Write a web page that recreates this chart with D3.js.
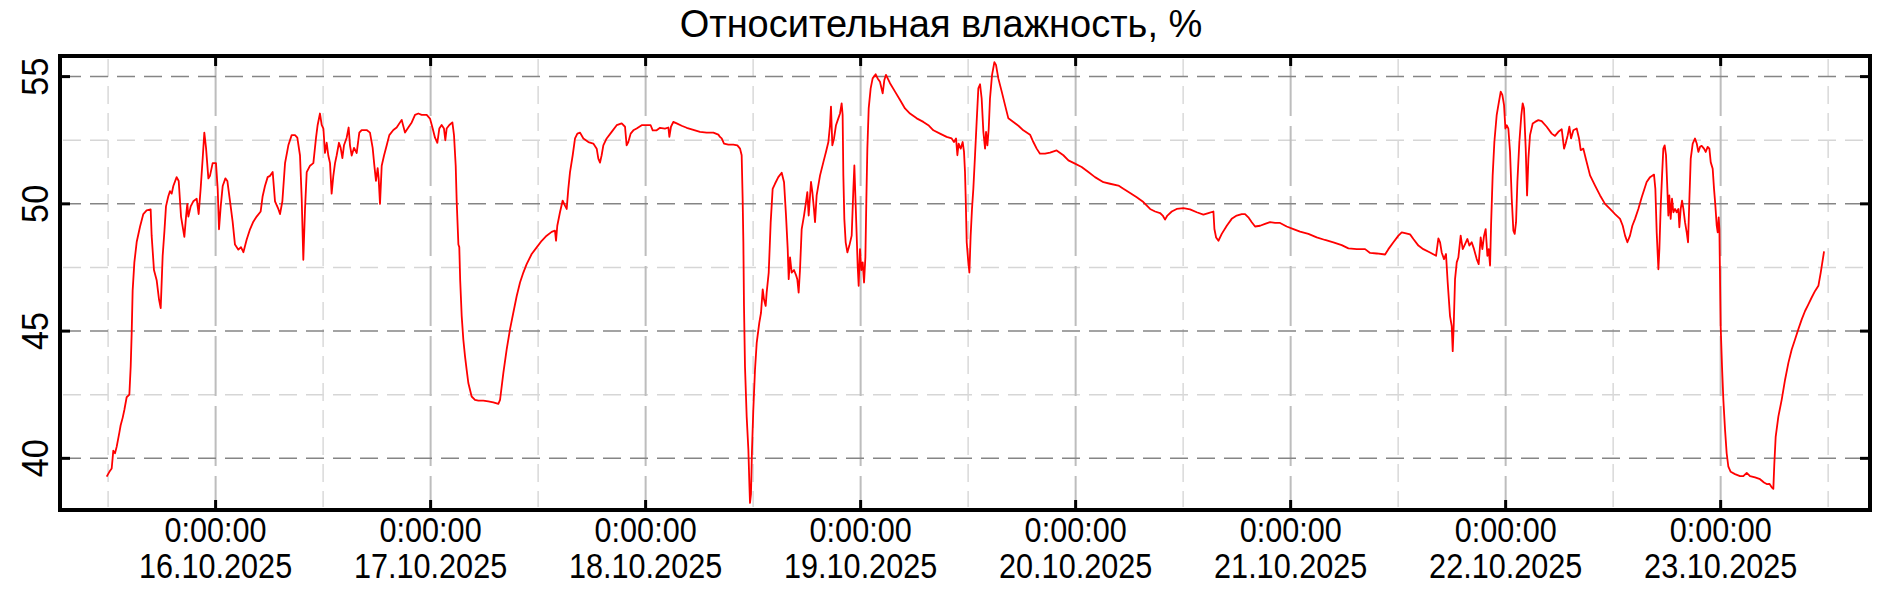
<!DOCTYPE html>
<html>
<head>
<meta charset="utf-8">
<script src="https://cdn.jsdelivr.net/npm/d3@7"></script>
<style>
  body { margin: 0; background: #fff; }
  svg { display: block; }
</style>
</head>
<body>
<script>
// Screen dimensions.
const WIDTH = 1882;
const HEIGHT = 590;
const margin = { top: 56, right: 12, bottom: 80, left: 60 };

const TITLE = "Относительная влажность, %";
const FONT = "'Liberation Sans', Arial, sans-serif";
// the tick labels of the original are in a narrow face: squeeze a regular one
const SQUEEZE_X = 0.85;
const SQUEEZE_Y = 0.95;

// Hours counted from 15.10.2025 0:00 and relative humidity, %.
const hrs = [
  11.84, 12.14, 12.40, 12.58, 12.77, 12.96, 13.25, 13.40, 13.63, 13.81, 14.07, 14.37, 14.52, 14.63, 14.74, 14.93,
  15.19, 15.56, 15.93, 16.30, 16.75, 16.86, 17.12, 17.42, 17.68, 17.87, 18.09, 18.28, 18.46, 18.72, 18.91, 19.10,
  19.28, 19.65, 19.88, 20.14, 20.51, 20.70, 20.84, 20.96, 21.22, 21.51, 21.89, 22.11, 22.33, 22.56, 22.74, 22.93,
  23.19, 23.37, 23.67, 24.04, 24.23, 24.38, 24.57, 24.79, 25.09, 25.31, 25.61, 25.90, 26.16, 26.54, 26.83, 27.10,
  27.47, 27.84, 28.21, 28.58, 29.03, 29.25, 29.51, 29.81, 30.07, 30.37, 30.63, 31.00, 31.19, 31.45, 31.75, 32.12,
  32.49, 32.86, 33.12, 33.42, 33.61, 33.79, 33.98, 34.17, 34.54, 34.91, 35.21, 35.39, 35.65, 35.84, 36.03, 36.21,
  36.40, 36.58, 36.77, 36.95, 37.14, 37.33, 37.51, 37.77, 37.96, 38.15, 38.33, 38.63, 38.85, 39.00, 39.19, 39.45,
  39.75, 40.04, 40.30, 40.86, 41.23, 41.53, 41.72, 41.90, 42.09, 42.20, 42.35, 42.54, 42.80, 43.10, 43.39, 43.84,
  44.21, 44.77, 45.14, 45.51, 45.89, 46.26, 46.63, 47.00, 47.56, 47.93, 48.23, 48.49, 48.75, 48.97, 49.23, 49.49,
  49.64, 49.79, 50.09, 50.43, 50.61, 50.80, 50.91, 51.10, 51.20, 51.30, 51.47, 51.65, 51.84, 52.02, 52.21, 52.58,
  52.95, 53.33, 53.88, 54.44, 55.00, 55.56, 55.75, 56.12, 56.49, 56.86, 57.23, 57.61, 57.98, 58.35, 58.72, 59.28,
  59.84, 60.40, 60.95, 61.51, 61.88, 62.00, 62.14, 62.44, 62.74, 63.00, 63.19, 63.37, 63.56, 63.86, 64.12, 64.38,
  64.68, 65.05, 65.61, 66.16, 66.54, 66.72, 66.91, 67.09, 67.28, 67.65, 68.21, 68.77, 69.33, 69.70, 69.88, 70.07,
  70.33, 70.63, 71.00, 71.56, 72.12, 72.56, 72.79, 73.23, 73.61, 74.16, 74.54, 74.65, 74.83, 75.09, 75.47, 76.02,
  76.58, 77.33, 78.07, 78.81, 79.56, 80.12, 80.30, 80.49, 80.75, 81.23, 81.79, 82.24, 82.54, 82.72, 82.83, 82.91,
  82.98, 83.09, 83.28, 83.47, 83.58, 83.65, 83.76, 83.87, 84.02, 84.21, 84.40, 84.69, 84.88, 85.07, 85.21, 85.40,
  85.51, 85.74, 85.96, 86.18, 86.44, 86.81, 87.19, 87.45, 87.67, 87.86, 87.97, 88.12, 88.30, 88.56, 88.79, 88.93,
  89.08, 89.23, 89.42, 89.68, 89.90, 90.05, 90.20, 90.46, 90.61, 90.79, 90.91, 91.09, 91.47, 91.84, 92.13, 92.40,
  92.58, 92.69, 92.84, 93.03, 93.25, 93.51, 93.70, 93.88, 93.99, 94.07, 94.18, 94.33, 94.52, 94.74, 95.00, 95.19,
  95.30, 95.41, 95.56, 95.67, 95.78, 95.93, 96.08, 96.23, 96.38, 96.53, 96.64, 96.75, 96.90, 97.12, 97.34, 97.68,
  97.90, 98.16, 98.46, 98.65, 98.83, 99.28, 99.84, 100.40, 100.95, 101.51, 102.26, 103.00, 103.56, 104.12, 104.86, 105.60,
  106.16, 106.42, 106.65, 106.80, 106.94, 107.17, 107.39, 107.54, 107.65, 107.73, 107.84, 107.99, 108.14, 108.28, 108.43, 108.58,
  108.77, 108.95, 109.14, 109.33, 109.51, 109.70, 109.89, 110.00, 110.15, 110.30, 110.44, 110.67, 110.93, 111.11, 111.37, 111.75,
  112.12, 112.49, 113.05, 113.61, 114.16, 114.91, 115.28, 115.65, 116.02, 116.58, 117.14, 117.88, 118.63, 119.19, 119.93, 120.67,
  121.42, 122.16, 123.10, 123.84, 124.77, 125.33, 126.08, 126.82, 127.56, 128.31, 128.87, 129.42, 129.72, 129.98, 130.24, 130.73,
  131.28, 132.03, 132.77, 133.52, 134.26, 134.82, 135.38, 135.49, 135.68, 135.94, 136.31, 136.87, 137.42, 137.98, 138.54, 138.91,
  139.28, 139.66, 140.03, 140.59, 141.14, 141.70, 142.26, 142.82, 143.56, 144.31, 145.05, 145.98, 146.91, 147.84, 148.77, 149.70,
  150.45, 151.38, 152.31, 152.87, 153.61, 154.54, 154.91, 155.47, 156.03, 156.40, 156.88, 157.33, 157.70, 158.26, 158.81, 159.56,
  160.23, 160.49, 160.68, 160.86, 161.12, 161.34, 161.53, 161.79, 161.98, 162.09, 162.20, 162.35, 162.54, 162.72, 162.98, 163.21,
  163.47, 163.73, 163.95, 164.21, 164.47, 164.77, 164.99, 165.21, 165.40, 165.59, 165.77, 165.96, 166.11, 166.26, 166.37, 166.55,
  166.74, 167.00, 167.22, 167.45, 167.63, 167.82, 167.97, 168.12, 168.30, 168.49, 168.68, 168.86, 169.01, 169.16, 169.31, 169.53,
  169.75, 169.90, 170.05, 170.24, 170.39, 170.54, 170.72, 171.02, 171.28, 171.65, 172.02, 172.58, 173.14, 173.51, 173.88, 174.26,
  174.52, 174.70, 174.93, 175.11, 175.30, 175.56, 175.93, 176.19, 176.38, 176.67, 176.94, 177.42, 177.98, 178.54, 179.09, 179.65,
  180.21, 180.77, 181.07, 181.33, 181.59, 181.88, 182.14, 182.44, 182.81, 183.19, 183.37, 183.74, 184.12, 184.56, 184.71, 184.86,
  185.05, 185.16, 185.31, 185.46, 185.60, 185.75, 185.90, 186.05, 186.16, 186.27, 186.42, 186.57, 186.72, 186.91, 187.09, 187.28,
  187.39, 187.54, 187.69, 187.84, 188.02, 188.21, 188.36, 188.51, 188.66, 188.88, 189.14, 189.33, 189.51, 189.70, 189.88, 190.14,
  190.33, 190.55, 190.74, 190.89, 191.11, 191.26, 191.41, 191.56, 191.67, 191.78, 191.86, 191.93, 192.00, 192.15, 192.30, 192.49,
  192.67, 192.86, 193.12, 193.60, 194.16, 194.53, 194.91, 195.28, 195.84, 196.40, 196.84, 197.14, 197.44, 197.70, 197.88, 197.99,
  198.14, 198.44, 198.81, 199.19, 199.56, 199.93, 200.30, 200.67, 201.05, 201.42, 201.79, 202.16, 202.54, 202.91, 203.17, 203.35,
  203.54
];
const rh = [
  39.28, 39.47, 39.60, 40.30, 40.20, 40.46, 41.00, 41.30, 41.60, 41.90, 42.40, 42.50, 43.60, 44.90, 46.60, 47.70,
  48.50, 49.10, 49.60, 49.74, 49.78, 48.75, 47.40, 47.00, 46.25, 45.90, 47.96, 48.90, 49.90, 50.30, 50.50, 50.40,
  50.70, 51.05, 50.90, 49.50, 48.70, 49.50, 50.00, 49.50, 49.90, 50.10, 50.20, 49.60, 50.60, 51.80, 52.80, 52.20,
  51.00, 51.10, 51.60, 51.60, 50.60, 49.00, 49.90, 50.70, 51.00, 50.90, 50.10, 49.30, 48.40, 48.20, 48.30, 48.10,
  48.60, 49.00, 49.30, 49.50, 49.70, 50.30, 50.70, 51.05, 51.10, 51.25, 50.10, 49.80, 49.60, 50.10, 51.60, 52.30,
  52.70, 52.70, 52.60, 51.90, 50.20, 47.80, 49.80, 51.25, 51.50, 51.60, 52.60, 53.10, 53.55, 53.10, 52.96, 52.00,
  52.40, 51.90, 51.60, 50.40, 51.10, 51.60, 51.90, 52.40, 52.20, 51.80, 52.30, 52.60, 53.00, 52.30, 51.90, 52.20,
  52.00, 52.80, 52.90, 52.90, 52.80, 52.20, 51.50, 50.90, 51.40, 51.00, 50.00, 51.50, 51.90, 52.30, 52.70, 52.90,
  53.00, 53.30, 52.80, 53.00, 53.20, 53.50, 53.55, 53.50, 53.50, 53.35, 52.96, 52.60, 52.40, 52.96, 53.10, 52.96,
  52.50, 52.96, 53.10, 53.20, 52.70, 51.50, 50.10, 48.40, 48.30, 47.00, 45.59, 44.67, 44.01, 43.49, 42.96, 42.43,
  42.30, 42.27, 42.27, 42.24, 42.20, 42.14, 42.30, 43.36, 44.28, 45.07, 45.72, 46.38, 46.91, 47.30, 47.63, 48.03,
  48.29, 48.55, 48.75, 48.90, 48.95, 48.55, 49.14, 49.67, 50.13, 49.93, 49.80, 50.59, 51.25, 51.91, 52.57, 52.76,
  52.80, 52.57, 52.43, 52.37, 52.17, 51.78, 51.62, 51.91, 52.30, 52.57, 52.83, 53.09, 53.16, 53.03, 52.30, 52.43,
  52.76, 52.89, 52.96, 53.09, 53.09, 53.09, 52.89, 52.89, 52.99, 52.96, 53.00, 52.63, 53.03, 53.22, 53.16, 53.07,
  52.99, 52.91, 52.83, 52.80, 52.80, 52.72, 52.63, 52.57, 52.37, 52.33, 52.33, 52.30, 52.17, 51.91, 50.20, 48.49,
  45.99, 43.62, 41.64, 40.33, 39.00, 38.25, 38.60, 40.30, 41.91, 43.49, 44.54, 45.33, 45.72, 46.64, 46.25, 45.99,
  46.51, 47.30, 49.28, 50.59, 50.79, 51.05, 51.22, 50.85, 49.54, 48.22, 47.04, 47.90, 47.30, 47.40, 47.20, 47.04,
  46.51, 47.40, 49.01, 49.54, 50.07, 50.46, 49.54, 50.86, 50.46, 49.80, 49.28, 50.33, 51.12, 51.64, 52.04, 52.43,
  53.09, 53.82, 52.30, 52.57, 53.09, 53.36, 53.55, 53.95, 53.50, 51.12, 49.41, 48.49, 48.09, 48.36, 48.75, 50.59,
  51.51, 50.33, 48.75, 47.57, 46.78, 48.22, 47.40, 47.70, 46.91, 47.90, 50.20, 52.17, 53.75, 54.54, 54.93, 55.09,
  54.93, 54.80, 54.34, 54.87, 55.07, 54.74, 54.41, 54.08, 53.75, 53.55, 53.36, 53.22, 53.09, 52.89, 52.76, 52.63,
  52.57, 52.43, 52.57, 51.91, 52.37, 52.17, 52.43, 52.04, 51.25, 50.20, 48.49, 47.83, 47.30, 48.75, 49.80, 50.59,
  51.91, 53.22, 54.54, 54.70, 54.14, 52.83, 52.17, 52.83, 52.30, 52.96, 54.14, 55.07, 55.57, 55.46, 54.93, 54.41,
  53.88, 53.36, 53.22, 53.07, 52.89, 52.72, 52.43, 52.17, 51.97, 51.97, 52.01, 52.10, 51.91, 51.71, 51.58, 51.45,
  51.25, 51.05, 50.85, 50.79, 50.72, 50.59, 50.43, 50.26, 50.07, 49.80, 49.70, 49.64, 49.54, 49.38, 49.54, 49.70,
  49.80, 49.83, 49.78, 49.67, 49.58, 49.64, 49.70, 49.01, 48.68, 48.55, 48.82, 49.14, 49.41, 49.54, 49.60, 49.60,
  49.47, 49.28, 49.11, 49.14, 49.21, 49.28, 49.25, 49.25, 49.11, 49.01, 48.91, 48.82, 48.68, 48.58, 48.49, 48.38,
  48.25, 48.22, 48.22, 48.07, 48.05, 48.01, 48.22, 48.49, 48.75, 48.88, 48.84, 48.80, 48.62, 48.36, 48.22, 48.09,
  47.96, 48.64, 48.49, 48.09, 47.83, 48.03, 46.91, 45.59, 45.20, 44.21, 45.20, 47.04, 47.70, 47.89, 48.75, 48.22,
  48.42, 48.62, 48.36, 48.49, 48.22, 47.83, 47.63, 48.68, 48.22, 48.75, 49.01, 47.96, 48.22, 47.57, 49.14, 51.12,
  52.43, 53.49, 53.95, 54.41, 54.28, 53.88, 52.96, 53.09, 52.96, 52.04, 50.20, 48.95, 48.82, 49.28, 50.86, 52.43,
  53.49, 53.95, 53.75, 52.17, 50.33, 51.78, 52.70, 53.16, 53.22, 53.29, 53.25, 53.03, 52.76, 52.67, 52.83, 52.93,
  52.17, 52.37, 52.70, 53.03, 52.57, 52.89, 52.96, 52.57, 52.11, 52.17, 51.78, 51.12, 50.72, 50.33, 50.00, 49.80,
  49.60, 49.41, 49.14, 48.75, 48.49, 48.75, 49.14, 49.41, 49.80, 50.26, 50.46, 50.86, 51.05, 51.15, 50.59, 48.88,
  47.43, 48.22, 49.93, 51.12, 52.17, 52.30, 51.91, 50.59, 49.54, 50.33, 49.41, 50.20, 49.67, 49.80, 49.67, 49.80,
  49.08, 49.80, 50.13, 49.80, 49.28, 48.88, 48.49, 50.20, 51.78, 52.37, 52.57, 52.37, 52.04, 52.24, 52.28, 52.17,
  52.04, 52.24, 52.17, 51.64, 51.38, 50.59, 49.93, 49.14, 48.88, 49.47, 49.01, 47.04, 45.20, 43.62, 42.30, 41.12,
  40.20, 39.67, 39.47, 39.38, 39.30, 39.30, 39.43, 39.30, 39.25, 39.18, 39.05, 38.99, 39.00, 38.86, 38.80, 39.79,
  40.84, 41.64, 42.30, 43.09, 43.75, 44.28, 44.67, 45.07, 45.46, 45.79, 46.05, 46.32, 46.58, 46.78, 47.30, 47.70,
  48.13
];

// Axis values.
const dayTicks = ["2025-10-16", "2025-10-17", "2025-10-18", "2025-10-19", "2025-10-20", "2025-10-21", "2025-10-22", "2025-10-23"];
const yTicks = [40, 45, 50, 55];
const yMinor = [42.5, 47.5, 52.5];

const T0 = new Date(2025, 9, 15, 0, 0);
const toDate = h => new Date(T0.getTime() + h * 3600e3);
const parseDay = d3.timeParse("%Y-%m-%d");
const days = dayTicks.map(parseDay);
const noons = [parseDay("2025-10-15")].concat(days).map(d => d3.timeHour.offset(d, 12));

const data = hrs.map((h, i) => ({ t: toDate(h), v: rh[i] }));

// SVG
const svg = d3.select("body").append("svg").attr("width", WIDTH).attr("height", HEIGHT);

const x = d3.scaleTime()
  .domain([toDate(6.63), toDate(208.67)])
  .range([margin.left, WIDTH - margin.right]);
const y = d3.scaleLinear()
  .domain([37.97, 55.81])
  .range([HEIGHT - margin.bottom, margin.top]);

const plotTop = margin.top, plotBottom = HEIGHT - margin.bottom;
const plotLeft = margin.left, plotRight = WIDTH - margin.right;

// grid
const grid = svg.append("g");
grid.selectAll(".ym").data(yMinor).enter().append("line")
  .attr("x1", plotLeft + 3).attr("x2", plotRight - 3)
  .attr("y1", d => y(d)).attr("y2", d => y(d))
  .attr("stroke", "#d6d6d6").attr("stroke-width", 1.5).attr("stroke-dasharray", "18,9");
grid.selectAll(".xm").data(noons).enter().append("line")
  .attr("x1", d => x(d)).attr("x2", d => x(d))
  .attr("y1", plotTop + 3).attr("y2", plotBottom - 3)
  .attr("stroke", "#d9d9d9").attr("stroke-width", 1.5).attr("stroke-dasharray", "18,9");
grid.selectAll(".xM").data(days).enter().append("line")
  .attr("x1", d => x(d)).attr("x2", d => x(d))
  .attr("y1", plotTop).attr("y2", plotBottom)
  .attr("stroke", "#bdbdbd").attr("stroke-width", 2).attr("stroke-dasharray", "60,10");
grid.selectAll(".yM").data(yTicks).enter().append("line")
  .attr("x1", plotLeft + 3).attr("x2", plotRight - 3)
  .attr("y1", d => y(d)).attr("y2", d => y(d))
  .attr("stroke", "#858585").attr("stroke-width", 1.5).attr("stroke-dasharray", "18,9");

// line
svg.append("path").datum(data)
  .attr("fill", "none")
  .attr("stroke", "#ff0000")
  .attr("stroke-width", 1.8)
  .attr("stroke-linejoin", "round")
  .attr("d", d3.line().x(d => x(d.t)).y(d => y(d.v)));

// ticks, inside the frame
const ticks = svg.append("g").attr("stroke", "#000").attr("stroke-width", 3);
days.forEach(d => {
  ticks.append("line").attr("x1", x(d)).attr("x2", x(d)).attr("y1", plotTop).attr("y2", plotTop + 10);
  ticks.append("line").attr("x1", x(d)).attr("x2", x(d)).attr("y1", plotBottom).attr("y2", plotBottom - 10);
});
yTicks.forEach(v => {
  ticks.append("line").attr("x1", plotLeft).attr("x2", plotLeft + 10).attr("y1", y(v)).attr("y2", y(v));
  ticks.append("line").attr("x1", plotRight).attr("x2", plotRight - 10).attr("y1", y(v)).attr("y2", y(v));
});

// frame
svg.append("rect")
  .attr("x", plotLeft).attr("y", plotTop)
  .attr("width", plotRight - plotLeft).attr("height", plotBottom - plotTop)
  .attr("fill", "none").attr("stroke", "#000").attr("stroke-width", 4);

// labels
const fmt = d3.timeFormat("%d.%m.%Y");
const xl = svg.append("g").attr("font-family", FONT).attr("font-size", 36).attr("text-anchor", "middle").attr("fill", "#000");
days.forEach(d => {
  xl.append("text").attr("transform", `translate(${x(d)},542) scale(${SQUEEZE_X},1)`).text("0:00:00");
  xl.append("text").attr("transform", `translate(${x(d)},578) scale(${SQUEEZE_X},1)`).text(fmt(d));
});
svg.append("g").attr("font-family", FONT).attr("font-size", 36).attr("text-anchor", "middle")
  .selectAll("text").data(yTicks).enter().append("text")
  .attr("transform", d => `translate(48,${y(d)}) rotate(-90) scale(${SQUEEZE_Y},1)`)
  .text(d => d);

svg.append("text")
  .attr("x", WIDTH / 2).attr("y", 37)
  .attr("text-anchor", "middle")
  .attr("font-family", FONT)
  .attr("font-size", 38)
  .text(TITLE);
</script>
</body>
</html>
